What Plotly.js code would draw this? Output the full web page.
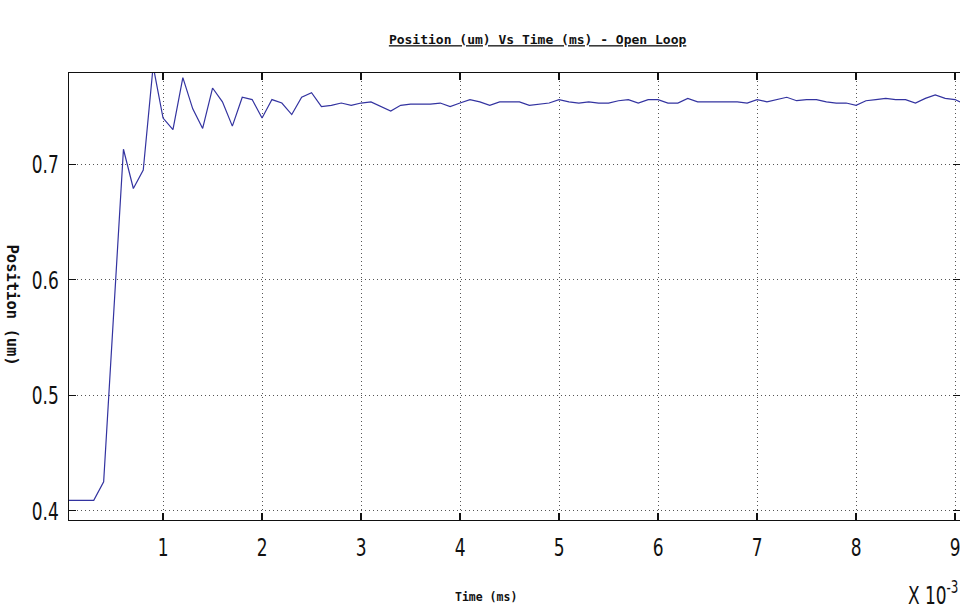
<!DOCTYPE html>
<html>
<head>
<meta charset="utf-8">
<script src="https://cdn.plot.ly/plotly-3.0.1.min.js"></script>
<style>
html,body{margin:0;padding:0;background:#fff;}
#chart{width:960px;height:610px;}
</style>
</head>
<body>
<div id="chart"></div>
<script>
// Time in units of 1e-3 (ms scale shown with "x 10^-3" multiplier)
const timeValues = [0.05,0.1,0.2,0.3,0.4,0.5,0.6,0.7,0.8,0.9,
  1.0,1.1,1.2,1.3,1.4,1.5,1.6,1.7,1.8,1.9,
  2.0,2.1,2.2,2.3,2.4,2.5,2.6,2.7,2.8,2.9,
  3.0,3.1,3.2,3.3,3.4,3.5,3.6,3.7,3.8,3.9,
  4.0,4.1,4.2,4.3,4.4,4.5,4.6,4.7,4.8,4.9,
  5.0,5.1,5.2,5.3,5.4,5.5,5.6,5.7,5.8,5.9,
  6.0,6.1,6.2,6.3,6.4,6.5,6.6,6.7,6.8,6.9,
  7.0,7.1,7.2,7.3,7.4,7.5,7.6,7.7,7.8,7.9,
  8.0,8.1,8.2,8.3,8.4,8.5,8.6,8.7,8.8,8.9,
  9.0,9.05];
const positionValues = [0.409,0.409,0.409,0.409,0.425,0.570,0.713,0.679,0.695,0.785,
  0.740,0.730,0.775,0.748,0.731,0.766,0.754,0.733,0.758,0.756,
  0.740,0.756,0.753,0.743,0.758,0.762,0.750,0.751,0.753,0.751,
  0.753,0.754,0.750,0.746,0.751,0.752,0.752,0.752,0.753,0.750,
  0.753,0.756,0.754,0.751,0.754,0.754,0.754,0.751,0.752,0.753,
  0.756,0.754,0.753,0.754,0.753,0.753,0.755,0.756,0.753,0.756,
  0.756,0.753,0.753,0.757,0.754,0.754,0.754,0.754,0.754,0.753,
  0.756,0.754,0.756,0.758,0.755,0.756,0.756,0.754,0.753,0.753,
  0.751,0.755,0.756,0.757,0.756,0.756,0.753,0.757,0.760,0.757,
  0.756,0.754];
const xTickValues = [1,2,3,4,5,6,7,8,9];
const yTickValues = [0.4,0.5,0.6,0.7];

const titleText = 'Position (um) Vs Time (ms) - Open Loop';
const xTitleText = 'Time (ms)';
const yTitleText = 'Position (um)';
const multiplierText = 'X 10<sup>-3</sup>';

const tickFont = {family: '"DejaVu Sans", "Liberation Sans", sans-serif', size: 25, color: '#111'};
const monoBold = '"DejaVu Sans Mono", "Liberation Mono", monospace';

const trace = {
  x: timeValues, y: positionValues, type: 'scatter', mode: 'lines',
  line: {color: '#3333a0', width: 1.2}, hoverinfo: 'skip'
};

const axisCommon = {
  showline: true, linecolor: '#111', linewidth: 1.2, mirror: 'ticks',
  ticks: 'inside', ticklen: 7, tickwidth: 1.2, tickcolor: '#111',
  showgrid: true, gridcolor: '#555', gridwidth: 1, griddash: '1px,3px',
  zeroline: false, tickfont: tickFont, ticklabeloverflow: 'allow'
};

const layout = {
  width: 960, height: 610,
  margin: {l: 69, r: 0, t: 73, b: 90},
  paper_bgcolor: '#fff', plot_bgcolor: '#fff',
  showlegend: false,
  title: {text: '<b><u>' + titleText + '</u></b>', x: 0.56, xanchor: 'center', y: 0.935, yanchor: 'middle',
          font: {family: monoBold, size: 13, color: '#111'}},
  xaxis: Object.assign({}, axisCommon, {
    range: [0.05, 9.05], tickmode: 'array', tickvals: xTickValues,
    ticktext: xTickValues.map(String), ticklabelstandoff: 5
  }),
  yaxis: Object.assign({}, axisCommon, {
    range: [0.392, 0.779], tickmode: 'array', tickvals: yTickValues,
    ticktext: yTickValues.map(v => v.toFixed(1)), ticklabelstandoff: 4
  }),
  annotations: [
    {text: '<b>' + xTitleText + '</b>', xref: 'paper', yref: 'paper', x: 0.468, y: -0.172,
     xanchor: 'center', yanchor: 'middle', showarrow: false,
     font: {family: monoBold, size: 11.5, color: '#111'}},
    {text: '<b>' + yTitleText + '</b>', xref: 'paper', yref: 'paper', x: -0.064, y: 0.48,
     xanchor: 'center', yanchor: 'middle', showarrow: false, textangle: 90,
     font: {family: monoBold, size: 15.5, color: '#111'}},
    {text: multiplierText, xref: 'paper', yref: 'paper', x: 1.0, y: -0.165,
     xanchor: 'right', yanchor: 'middle', showarrow: false, xshift: 12,
     font: tickFont}
  ]
};

// Condense the sans-serif numerals (the original uses a narrow typeface)
function condense(el, factor) {
  const len = el.getComputedTextLength();
  if (len > 0) {
    el.setAttribute('textLength', (len * factor).toFixed(2));
    el.setAttribute('lengthAdjust', 'spacingAndGlyphs');
  }
}

Plotly.newPlot('chart', [trace], layout, {displayModeBar: false, staticPlot: true}).then(function(gd){
  gd.querySelectorAll('.xtick text, .ytick text').forEach(el => condense(el, 0.68));
  const anns = gd.querySelectorAll('.annotation-text');
  if (anns.length) condense(anns[anns.length - 1], 0.68);
});
</script>
</body>
</html>
